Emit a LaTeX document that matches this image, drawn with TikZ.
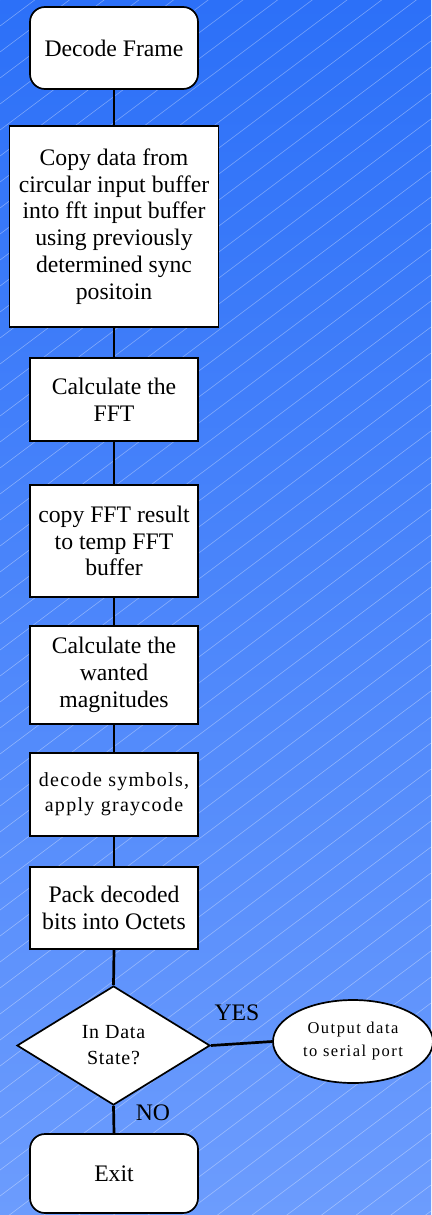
\documentclass[tikz,border=0pt]{standalone}
\usepackage{fontspec}
\setmainfont{Liberation Serif}
\newfontfamily\spacedA[LetterSpace=6.5]{Liberation Serif}
\newfontfamily\spacedB[LetterSpace=9]{Liberation Serif}
\newfontfamily\spacedC[LetterSpace=4]{Liberation Serif}
\usetikzlibrary{shapes.geometric}
\definecolor{bgtop}{RGB}{44,112,248}
\definecolor{bgbot}{RGB}{108,156,253}
\tikzset{
  stdfont/.style={font=\fontsize{23.7}{26.7}\selectfont},
  procbox/.style={draw=black, fill=white, line width=1.7pt, align=center, inner sep=0pt, text=black, stdfont},
  termbox/.style={procbox, rounded corners=15pt},
  decision/.style={draw=black, fill=white, line width=1.7pt, diamond, align=center, inner sep=0pt, aspect=1.62},
  ioell/.style={draw=black, fill=white, line width=1.7pt, ellipse, align=center, inner sep=0pt},
  conn/.style={draw=black, line width=2.7pt},
  lbl/.style={text=black, inner sep=0pt, stdfont},
  hatch/.style={draw=white, opacity=0.35, line width=0.6pt}
}
\begin{document}
\begin{tikzpicture}[x=1pt, y=-1pt]
\useasboundingbox (0,0) rectangle (431,1215);
\shade[top color=bgtop, bottom color=bgbot] (0,0) rectangle (431,1215);
\begin{scope}
  \clip (0,0) rectangle (431,1215);
  \foreach \c in {0,26,...,1580} {
    \draw[hatch] (0,\c) -- (431,\c-323);
  }
\end{scope}

\node[termbox, minimum width=168, minimum height=82] (dec) at (114,48) {Decode Frame};
\node[procbox, minimum width=209, minimum height=201] (copy) at (114,226.5)
  {Copy data from\\circular input buffer\\into fft input buffer\\using previously\\determined sync\\positoin};
\node[procbox, minimum width=168, minimum height=83] (fft) at (114,399.5) {Calculate the\\FFT};
\node[procbox, minimum width=168, minimum height=112] (cpfft) at (114,541) {copy FFT result\\to temp FFT\\buffer};
\node[procbox, minimum width=168, minimum height=98] (mag) at (114,675) {Calculate the\\wanted\\magnitudes};
\node[procbox, minimum width=168, minimum height=83, font=\fontsize{20}{25}\spacedA] (sym) at (114,794.5) {decode symbols,\\apply graycode};
\node[procbox, minimum width=168, minimum height=82] (pack) at (114,908) {Pack decoded\\bits into Octets};
\node[decision, minimum width=193, minimum height=119, font=\fontsize{20}{26}\spacedC] (dia) at (113.5,1045.5) {In Data\\State?};
\node[ioell, minimum width=160, minimum height=83, font=\fontsize{16.5}{23}\spacedB] (out) at (353,1041.5) {Output data\\to serial port};
\node[termbox, minimum width=168, minimum height=79] (exit) at (114,1173.5) {Exit};

\draw[conn] (dec.south) -- (copy.north);
\draw[conn] (copy.south) -- (fft.north);
\draw[conn] (fft.south) -- (cpfft.north);
\draw[conn] (cpfft.south) -- (mag.north);
\draw[conn] (mag.south) -- (sym.north);
\draw[conn] (sym.south) -- (pack.north);
\draw[conn] (pack.south) -- (dia.north);
\draw[conn] (dia.east) -- (out.west);
\draw[conn] (dia.south) -- (exit.north);

\node[lbl] (yes) at (237,1013) {YES};
\node[lbl] (no) at (153,1112.5) {NO};
\end{tikzpicture}
\end{document}
